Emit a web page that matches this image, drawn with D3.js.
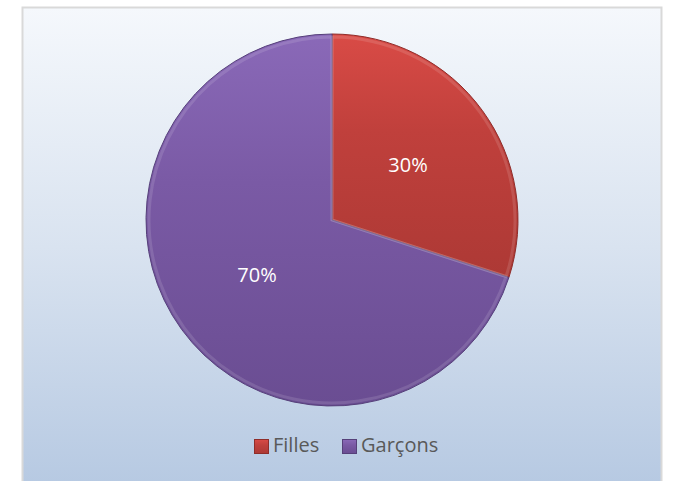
<!DOCTYPE html>
<html><head><meta charset="utf-8">
<script src="https://cdn.jsdelivr.net/npm/d3@7"></script>
<style>html,body{margin:0;padding:0;background:#fff;}svg{display:block;}</style>
</head><body>
<svg id="c" width="675" height="481"></svg>
<script>
const categories = ["Filles", "Garçons"];
const values = [30, 70];
const labels = ["30%", "70%"];
const colors = ["#c0403c", "#7a5aa5"];
const lightColors = ["#d94b46", "#8a69b8"];
const darkColors = ["#ad3935", "#6a4d92"];
const edgeColors = ["#8f2d2a", "#56407a"];

const svg = d3.select("#c");
const defs = svg.append("defs");

const bg = defs.append("linearGradient").attr("id","bg").attr("x1",0).attr("y1",0).attr("x2",0).attr("y2",1);
bg.append("stop").attr("offset","0%").attr("stop-color","#f5f8fc");
bg.append("stop").attr("offset","50%").attr("stop-color","#d9e3f0");
bg.append("stop").attr("offset","100%").attr("stop-color","#b6c9e2");

svg.append("rect").attr("x",22.5).attr("y",7.5).attr("width",639).attr("height",480)
  .attr("fill","url(#bg)").attr("stroke","#d9d9d9").attr("stroke-width",2);

colors.forEach((c,i)=>{
  const g = defs.append("linearGradient").attr("id","g"+i).attr("x1",0).attr("y1",0).attr("x2",0).attr("y2",1);
  g.append("stop").attr("offset","0%").attr("stop-color",lightColors[i]);
  g.append("stop").attr("offset","40%").attr("stop-color",c);
  g.append("stop").attr("offset","100%").attr("stop-color",darkColors[i]);
});

const cx = 332, cy = 220, r = 186;
const pie = d3.pie().sort(null).value(d=>d)(values);
const arc = d3.arc().innerRadius(0).outerRadius(r);
const arcIn = d3.arc().innerRadius(0).outerRadius(r-3);

const g = svg.append("g").attr("transform",`translate(${cx},${cy})`);
g.selectAll("path.s").data(pie).enter().append("path").attr("class","s")
  .attr("d",arc).attr("fill",(d,i)=>`url(#g${i})`)
  .attr("stroke",(d,i)=>edgeColors[i]).attr("stroke-width",1);
g.selectAll("path.h").data(pie).enter().append("path").attr("class","h")
  .attr("d",arcIn).attr("fill","none")
  .attr("stroke","rgba(255,255,255,0.12)").attr("stroke-width",3);

const labelPos = [[408,172],[257,282]];
svg.selectAll("text.l").data(labels).enter().append("text").attr("class","l")
  .attr("x",(d,i)=>labelPos[i][0]).attr("y",(d,i)=>labelPos[i][1])
  .attr("text-anchor","middle").attr("fill","#ffffff")
  .attr("font-family","'Open Sans', 'Liberation Sans', sans-serif").attr("font-size",20)
  .text(d=>d);

const legX = [254, 342];
const lg = svg.append("g");
categories.forEach((c,i)=>{
  lg.append("rect").attr("x",legX[i]+0.5).attr("y",439.5).attr("width",14).attr("height",14)
    .attr("fill",`url(#g${i})`).attr("stroke",edgeColors[i]).attr("stroke-width",1);
  lg.append("text").attr("x",legX[i]+19).attr("y",452)
    .attr("fill","#595959").attr("font-family","'Open Sans', 'Liberation Sans', sans-serif")
    .attr("font-size",20).text(c);
});
</script>
</body></html>
